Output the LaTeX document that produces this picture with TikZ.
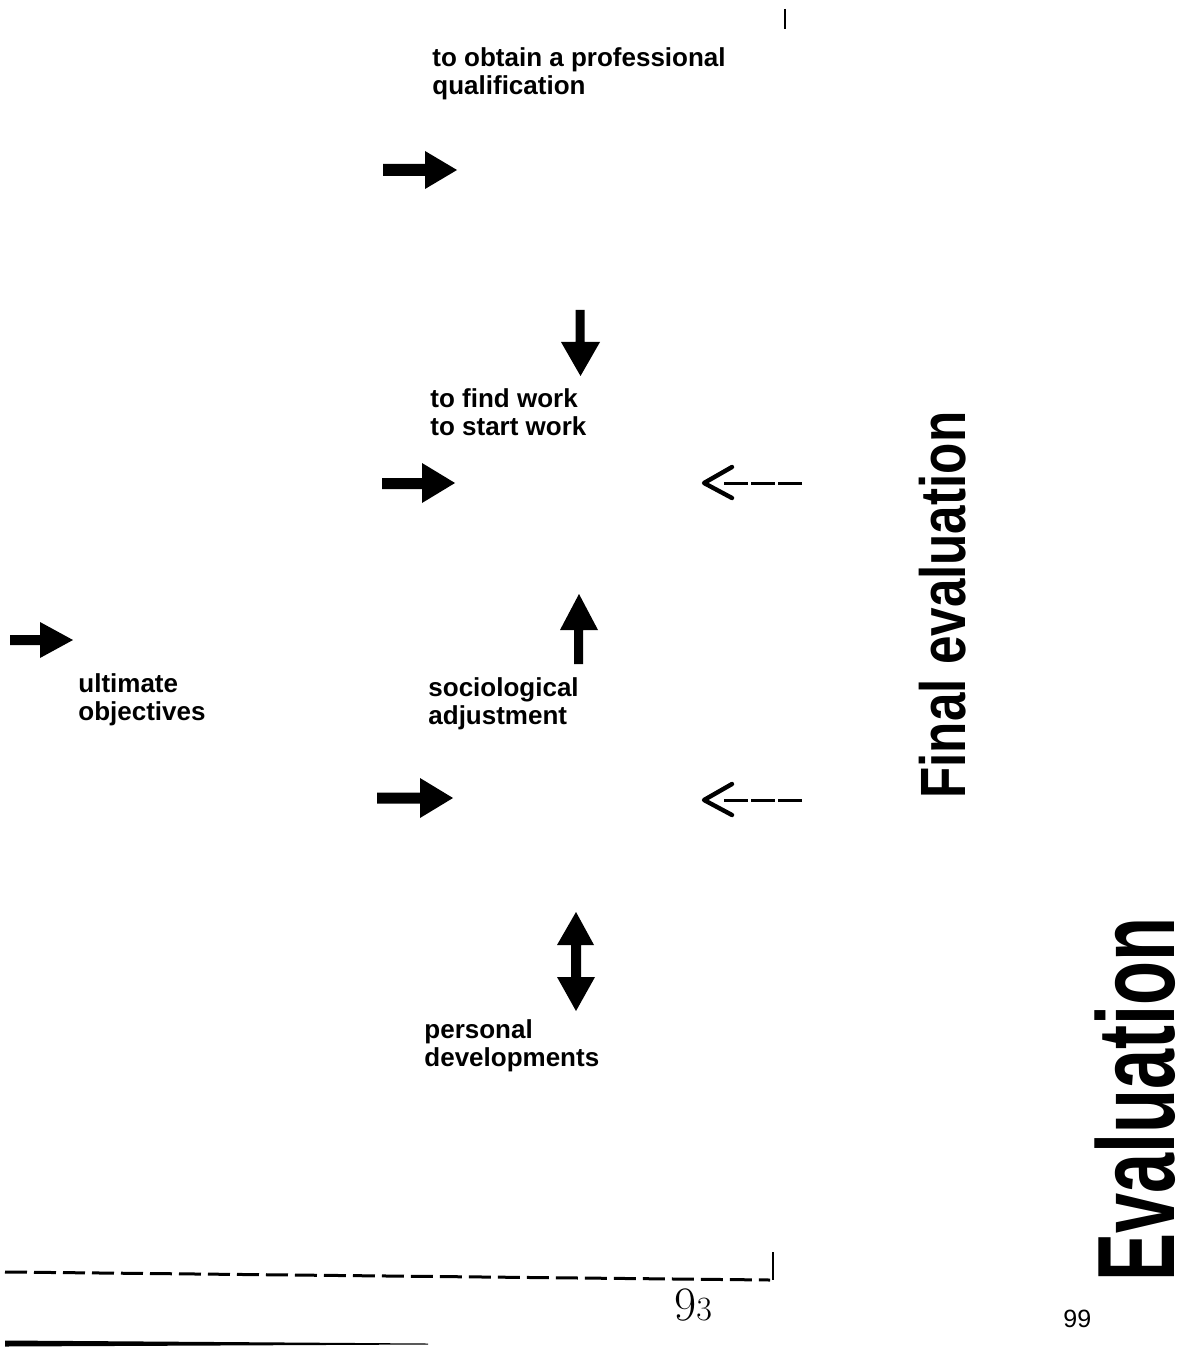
\documentclass[tikz,border=0pt]{standalone}
\usepackage{fontspec}
\setmainfont{Liberation Sans}
\newfontfamily\pgnumfont{Latin Modern Roman}
\begin{document}
\begin{tikzpicture}[x=0.5pt,y=-0.5pt,
  lbl/.style={font=\fontsize{13}{14}\selectfont\bfseries, align=left, anchor=base west, inner sep=0pt},
  darrow/.style={line width=1.5pt, dash pattern=on 12pt off 1.6pt},
  openhead/.style={line width=2.2pt, line cap=round, line join=round},
  rule/.style={line width=1.4pt},
  bigtitle/.style={rotate=90, anchor=base west, inner sep=0pt}
]
\useasboundingbox (0,0) rectangle (1183,1352);

% top tick
\draw[rule] (785,9) -- (785,29);

% labels (anchor = baseline of the last line)
\node[lbl] (qual) at (432,95) {to obtain a professional\\qualification};
\node[lbl] (work) at (430,436) {to find work\\to start work};
\node[lbl] (ult) at (78,720) {ultimate\\objectives};
\node[lbl] (soc) at (428,724) {sociological\\adjustment};
\node[lbl] (pers) at (424,1066) {personal\\developments};

% block arrows pointing right
\fill (383,164) -- (425,164) -- (425,151) -- (457,170) -- (425,189) -- (425,176) -- (383,176) -- cycle;
\fill (382,478) -- (422,478) -- (422,463) -- (455,483) -- (422,503) -- (422,489) -- (382,489) -- cycle;
\fill (377,792.5) -- (420,792.5) -- (420,778) -- (453,798) -- (420,818) -- (420,803.5) -- (377,803.5) -- cycle;
\fill (10,635) -- (40,635) -- (40,622) -- (73,640) -- (40,658) -- (40,645) -- (10,645) -- cycle;

% down arrow
\fill (575.5,310) -- (584.5,310) -- (584.5,342) -- (600,342) -- (580.5,376) -- (561,342) -- (575.5,342) -- cycle;
% up arrow
\fill (574,664) -- (583,664) -- (583,630) -- (598,630) -- (579,594) -- (560,630) -- (574,630) -- cycle;
% double arrow
\fill (576,912) -- (594,945) -- (581,945) -- (581,977) -- (595,977) -- (576,1011) -- (557,977) -- (571,977) -- (571,945) -- (557,945) -- cycle;

% dashed open arrows
\coordinate (d1s) at (802,483);
\coordinate (d1e) at (721,483);
\draw[darrow] (d1s) -- (d1e);
\draw[openhead] (732,467) -- (704,483) -- (732,498);
\coordinate (d2s) at (802,800);
\coordinate (d2e) at (721,800);
\draw[darrow] (d2s) -- (d2e);
\draw[openhead] (732,784) -- (704,800) -- (732,815);

% rotated titles
\node[bigtitle] (final) at (965,799) {\scalebox{0.8}[1]{\fontsize{32}{32}\selectfont\bfseries Final evaluation}};
\node[bigtitle] (eval) at (1174,1282) {\scalebox{0.655}[1]{\fontsize{55}{55}\selectfont\bfseries Evaluation}};

% bottom dashed rule with tick
\coordinate (bl) at (5,1272);
\coordinate (br) at (770,1280);
\draw[line width=1.5pt, dash pattern=on 11pt off 3.5pt] (bl) -- (br);
\draw[rule] (773,1252) -- (773,1280);

% page numbers
\node[anchor=base west, inner sep=0pt] (pg) at (674,1320) {\pgnumfont{\fontsize{24}{24}\selectfont 9}{\fontsize{17}{17}\selectfont 3}};
\node[anchor=base west, inner sep=0pt, font=\fontsize{12.5}{13}\selectfont] (p99) at (1063,1327) {99};

% bottom tapered solid line
\fill (5,1340.5) -- (428,1343.5) -- (428,1344.5) -- (5,1346.5) -- cycle;
\end{tikzpicture}
\end{document}
